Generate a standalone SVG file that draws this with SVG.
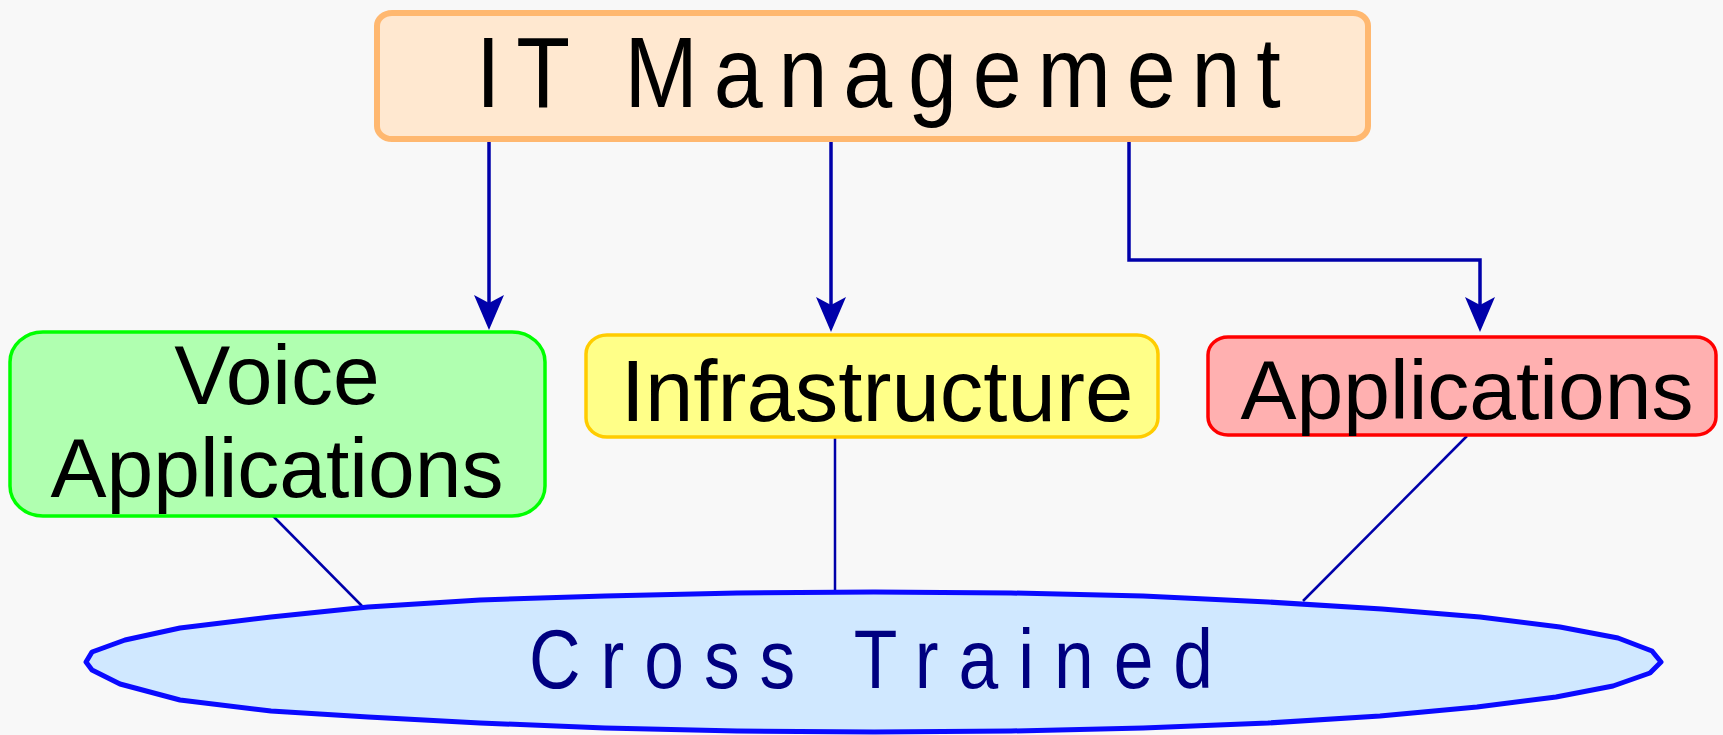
<svg xmlns="http://www.w3.org/2000/svg" width="1723" height="735" viewBox="0 0 1723 735">
<style>
  text { font-family: "Liberation Sans", Arial, sans-serif; fill: #000; text-anchor: middle; }
  .conn { fill: none; stroke: #0000AA; stroke-width: 3.5; }
  .thin { fill: none; stroke: #0000AA; stroke-width: 2.5; }
</style>
<defs>
  <marker id="arr" viewBox="0 0 35 30" markerWidth="35" markerHeight="30" refX="8" refY="15" orient="auto" markerUnits="userSpaceOnUse">
    <path d="M0,0 L35,15 L0,30 L8,15 Z" fill="#0000AA"/>
  </marker>
</defs>
<rect width="1723" height="735" fill="#F8F8F8"/>

<g id="connectors">
  <line class="conn" x1="489" y1="141" x2="489" y2="303" marker-end="url(#arr)"/>
  <line class="conn" x1="831" y1="141" x2="831" y2="305" marker-end="url(#arr)"/>
  <polyline class="conn" points="1129,141 1129,260 1480,260 1480,305" marker-end="url(#arr)"/>
  <line class="thin" x1="273" y1="516" x2="363" y2="607"/>
  <line class="thin" x1="835" y1="438" x2="835" y2="592"/>
  <line class="thin" x1="1467" y1="436" x2="1303" y2="601"/>
</g>

<g id="it-management">
  <rect x="377" y="13" width="991" height="126" rx="15" ry="13" fill="#FFE8D0" stroke="#FFB870" stroke-width="6"/>
  <text transform="translate(476,107) scale(0.88,1)" x="0" y="0" font-size="100" letter-spacing="18" style="text-anchor:start">IT Management</text>
</g>

<g id="voice-applications">
  <rect x="10" y="332" width="535" height="184" rx="33" ry="30" fill="#B0FFB0" stroke="#00FF00" stroke-width="3.5"/>
  <text x="277" y="404" font-size="84">Voice</text>
  <text x="277" y="497" font-size="84">Applications</text>
</g>

<g id="infrastructure">
  <rect x="586" y="335" width="572" height="102" rx="21" ry="19" fill="#FFFF88" stroke="#FFCC00" stroke-width="3.5"/>
  <text x="877" y="421" font-size="87">Infrastructure</text>
</g>

<g id="applications">
  <rect x="1208" y="337" width="508" height="98" rx="20" ry="18" fill="#FFB0B0" stroke="#FF0000" stroke-width="3.5"/>
  <text x="1467" y="419" font-size="84">Applications</text>
</g>

<g id="cross-trained">
  <polygon points="1661,662 1652,651 1618,638 1560,627 1480,617 1382,609 1268,602 1143,596 1011,593 874,592 737,593 605,596 480,600 368,607 271,617 180,628 125,640 92,652 86,662 92,670 120,684 180,700 271,711 368,717 480,723 605,728 737,731 874,732 1011,731 1143,728 1268,723 1380,716 1477,707 1556,697 1613,686 1650,673" fill="#D0E8FF" stroke="#0A0AFF" stroke-width="5" stroke-linejoin="round"/>
  <text transform="translate(529,688) scale(0.85,1)" x="0" y="0" font-size="84" letter-spacing="23.5" style="fill:#000080;text-anchor:start">Cross Trained</text>
</g>
</svg>
